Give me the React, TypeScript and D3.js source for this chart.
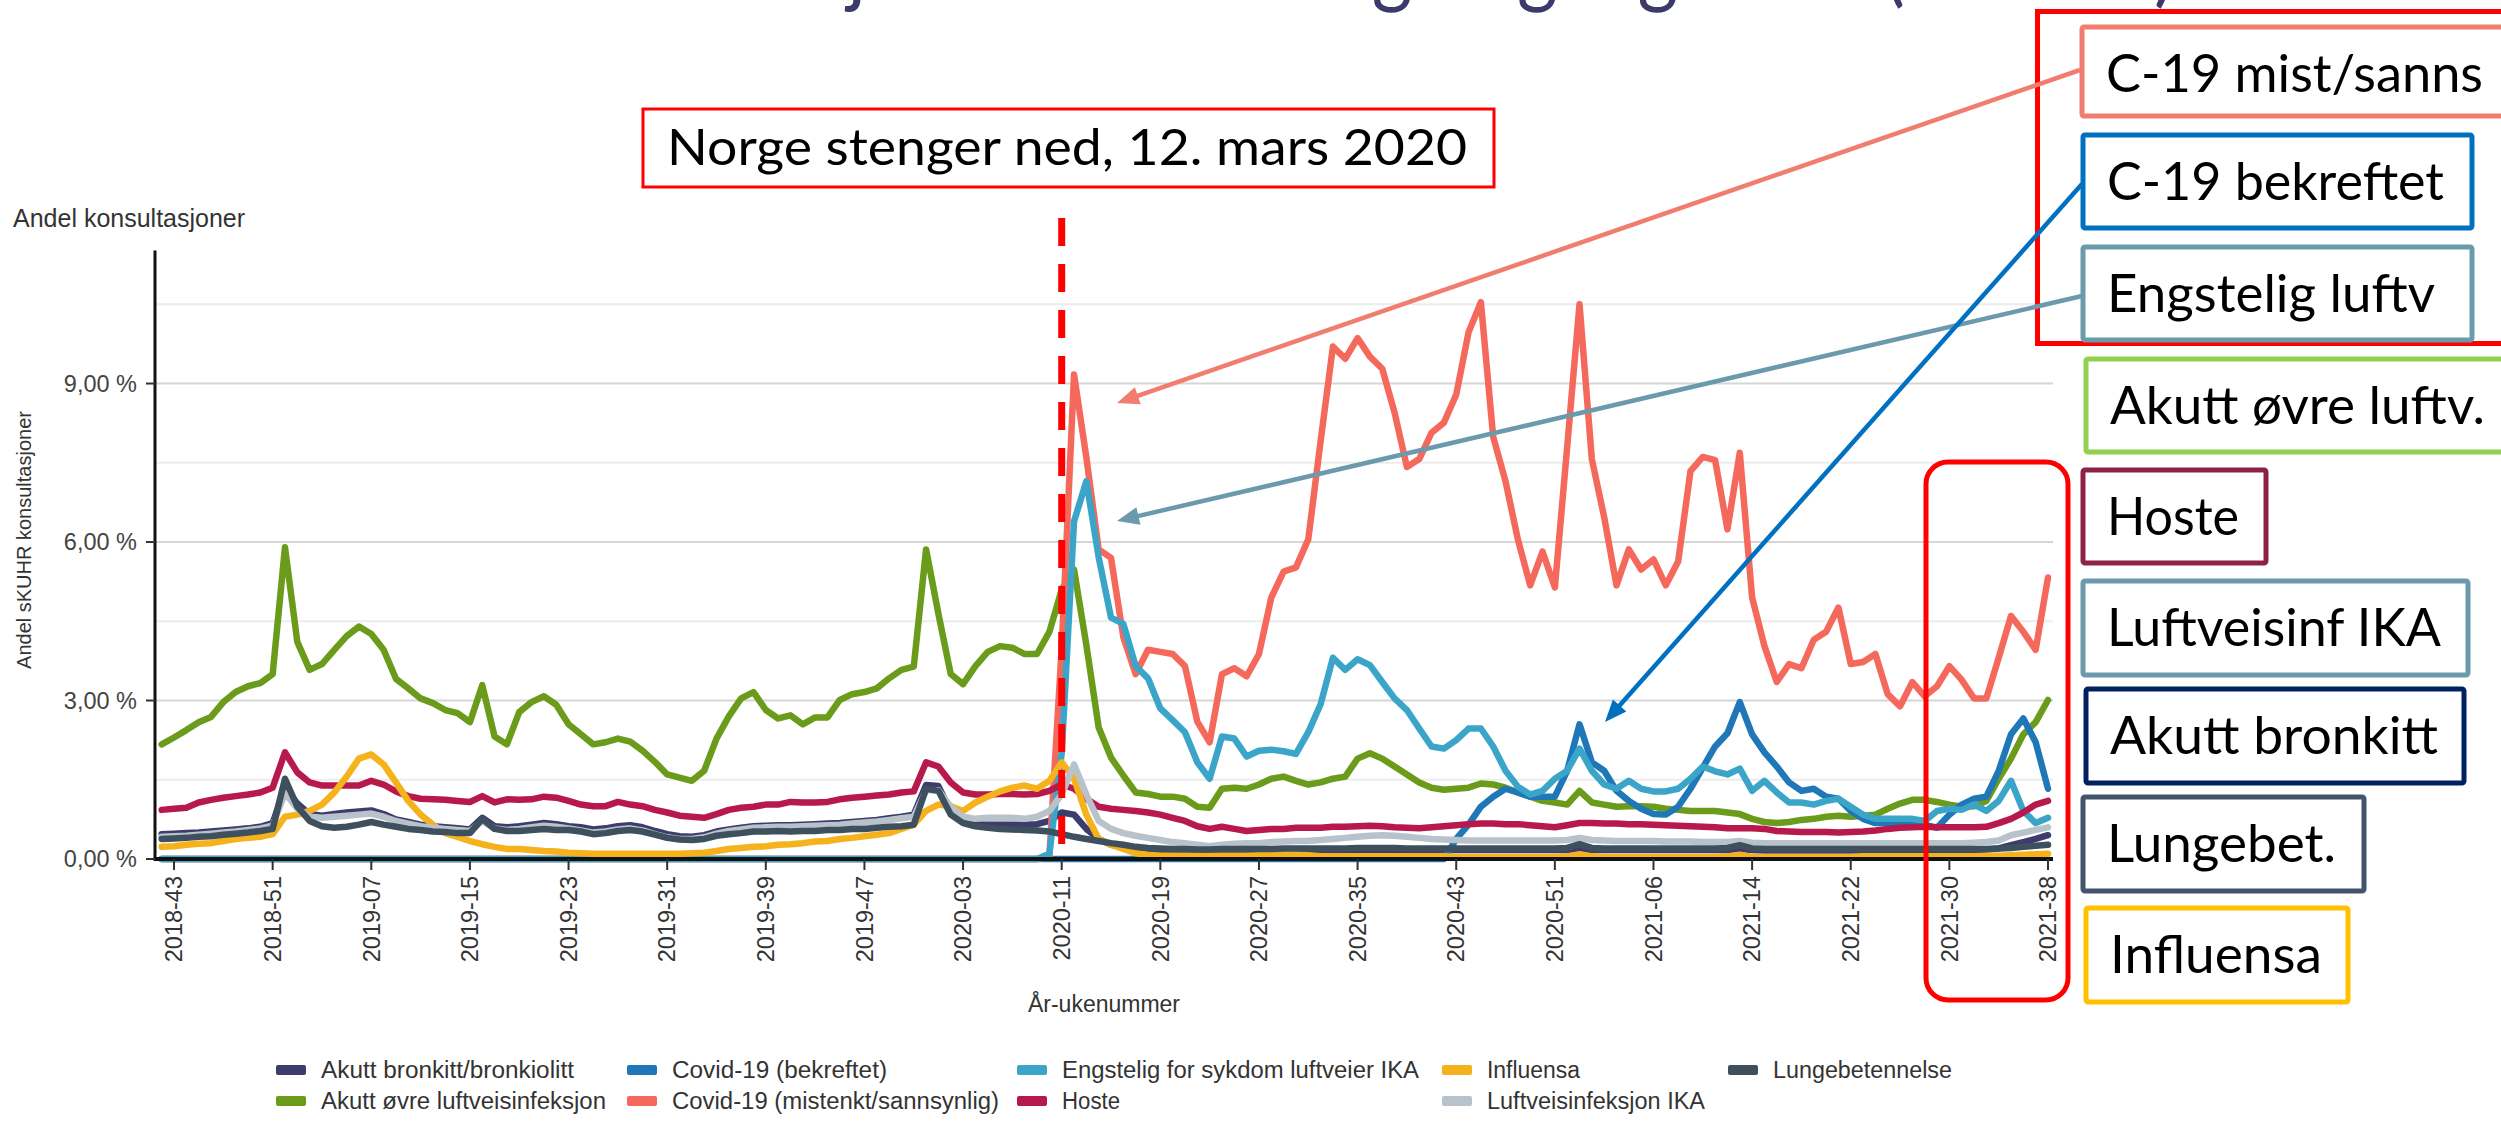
import React from 'react';
import * as d3 from 'd3';

// ---------- categories ----------
const startYear = 2018;
const startWeek = 42;
const weeksPerYear: Record<number, number> = { 2018: 52, 2019: 52, 2020: 53, 2021: 52 };
const nPoints = 154;
const weeks: string[] = (() => {
  const out: string[] = [];
  let yr = startYear, wk = startWeek;
  for (let i = 0; i < nPoints; i++) {
    out.push(`${yr}-${String(wk).padStart(2, '0')}`);
    wk++;
    if (wk > weeksPerYear[yr]) { yr++; wk = 1; }
  }
  return out;
})();

const tickLabels = ['2018-43','2018-51','2019-07','2019-15','2019-23','2019-31','2019-39','2019-47','2020-03','2020-11','2020-19','2020-27','2020-35','2020-43','2020-51','2021-06','2021-14','2021-22','2021-30','2021-38'];
const yTicks = [0, 3, 6, 9];
const yMinorGrid = [1.5, 4.5, 7.5, 10.5];
const lockdownWeek = '2020-11';

// ---------- series values (% of consultations) ----------
const akuttBronkitt = [
0.47,0.48,0.49,0.50,0.52,0.54,0.56,0.58,0.61,0.68,
1.35,1.05,0.85,0.82,0.85,0.88,0.90,0.92,0.85,0.75,
0.70,0.65,0.62,0.60,0.58,0.56,0.78,0.62,0.60,0.62,
0.65,0.68,0.66,0.62,0.60,0.56,0.58,0.62,0.64,0.60,
0.53,0.47,0.43,0.42,0.45,0.52,0.56,0.59,0.62,0.63,
0.64,0.64,0.65,0.66,0.67,0.68,0.70,0.72,0.74,0.77,
0.80,0.84,1.40,1.38,0.90,0.70,0.66,0.65,0.65,0.65,
0.65,0.66,0.72,0.88,0.84,0.57,0.38,0.27,0.23,0.20,
0.18,0.17,0.17,0.17,0.16,0.16,0.17,0.17,0.17,0.17,
0.17,0.17,0.17,0.17,0.17,0.17,0.17,0.17,0.17,0.17,
0.17,0.17,0.17,0.17,0.17,0.17,0.17,0.17,0.17,0.17,
0.17,0.17,0.17,0.17,0.17,0.20,0.17,0.17,0.17,0.17,
0.17,0.17,0.17,0.17,0.17,0.17,0.17,0.17,0.19,0.17,
0.16,0.16,0.16,0.16,0.16,0.16,0.16,0.16,0.16,0.16,
0.16,0.16,0.16,0.16,0.16,0.16,0.17,0.17,0.18,0.20,
0.26,0.32,0.38,0.45];

const akuttOvre = [
2.17,2.30,2.44,2.59,2.69,2.97,3.16,3.27,3.33,3.50,
5.90,4.11,3.58,3.69,3.96,4.22,4.40,4.26,3.96,3.41,
3.23,3.04,2.95,2.82,2.76,2.59,3.29,2.32,2.17,2.78,
2.97,3.08,2.92,2.55,2.36,2.17,2.21,2.28,2.22,2.05,
1.84,1.60,1.54,1.48,1.67,2.28,2.70,3.04,3.16,2.82,
2.66,2.72,2.55,2.68,2.68,3.01,3.12,3.16,3.23,3.42,
3.58,3.64,5.86,4.64,3.50,3.31,3.65,3.92,4.03,4.00,
3.88,3.88,4.30,5.10,5.48,4.05,2.49,1.92,1.58,1.26,
1.23,1.18,1.18,1.14,0.99,0.97,1.33,1.35,1.33,1.41,
1.52,1.56,1.48,1.41,1.45,1.52,1.56,1.90,2.00,1.90,
1.75,1.60,1.45,1.35,1.31,1.33,1.35,1.43,1.41,1.35,
1.26,1.18,1.10,1.07,1.03,1.29,1.07,1.03,0.99,1.00,
1.00,0.99,0.95,0.93,0.91,0.91,0.91,0.88,0.85,0.76,
0.70,0.68,0.70,0.74,0.76,0.80,0.82,0.80,0.82,0.84,
0.95,1.05,1.12,1.12,1.08,1.03,0.99,1.00,1.10,1.52,
1.90,2.36,2.59,3.01];

const covidBekreftet = [
0,0,0,0,0,0,0,0,0,0, 0,0,0,0,0,0,0,0,0,0,
0,0,0,0,0,0,0,0,0,0, 0,0,0,0,0,0,0,0,0,0,
0,0,0,0,0,0,0,0,0,0, 0,0,0,0,0,0,0,0,0,0,
0,0,0,0,0,0,0,0,0,0, 0,0,0,0,0,0,0,0,0,0,
0,0,0,0,0,0,0,0,0,0, 0,0,0,0,0,0,0,0,0,0,
0,0,0,0,0,0.38,0.65,0.99,1.18,1.33,
1.26,1.18,1.18,1.18,1.67,2.55,1.83,1.67,1.29,1.10,
0.95,0.85,0.84,0.99,1.33,1.73,2.13,2.38,2.97,2.36,
2.02,1.75,1.45,1.29,1.33,1.18,1.14,0.91,0.76,0.68,
0.68,0.67,0.65,0.65,0.59,0.84,1.03,1.14,1.18,1.67,
2.36,2.66,2.21,1.33];

const covidMistenkt = [
0,0,0,0,0,0,0,0,0,0, 0,0,0,0,0,0,0,0,0,0,
0,0,0,0,0,0,0,0,0,0, 0,0,0,0,0,0,0,0,0,0,
0,0,0,0,0,0,0,0,0,0, 0,0,0,0,0,0,0,0,0,0,
0,0,0,0,0,0,0,0,0,0, 0,0,0.05,4.0,9.17,7.6,5.86,5.7,4.2,3.5,
3.96,3.92,3.88,3.65,2.6,2.21,3.5,3.61,3.46,3.88,
4.95,5.44,5.52,6.05,7.91,9.70,9.47,9.86,9.51,9.28,
8.45,7.42,7.57,8.07,8.26,8.79,9.97,10.54,7.99,7.15,
6.05,5.18,5.82,5.14,7.8,10.5,7.57,6.47,5.18,5.86,
5.48,5.67,5.18,5.63,7.34,7.61,7.55,6.24,7.69,4.95,
4.03,3.35,3.69,3.61,4.15,4.30,4.76,3.69,3.73,3.88,
3.12,2.89,3.35,3.08,3.27,3.65,3.39,3.04,3.04,3.81,
4.60,4.30,3.96,5.33];

const engstelig = [
0,0,0,0,0,0,0,0,0,0, 0,0,0,0,0,0,0,0,0,0,
0,0,0,0,0,0,0,0,0,0, 0,0,0,0,0,0,0,0,0,0,
0,0,0,0,0,0,0,0,0,0, 0,0,0,0,0,0,0,0,0,0,
0,0,0,0,0,0,0,0,0,0, 0,0,0.1,2.0,6.39,7.15,5.71,4.57,4.45,3.65,
3.42,2.85,2.63,2.40,1.83,1.52,2.32,2.28,1.94,2.05,
2.07,2.04,1.99,2.40,2.93,3.81,3.58,3.78,3.67,3.35,
3.04,2.82,2.47,2.13,2.09,2.25,2.47,2.47,2.13,1.67,
1.37,1.22,1.29,1.52,1.67,2.09,1.67,1.41,1.33,1.48,
1.33,1.28,1.28,1.33,1.52,1.75,1.66,1.60,1.71,1.29,
1.48,1.26,1.07,1.07,1.03,1.10,1.14,0.99,0.84,0.76,
0.76,0.76,0.76,0.72,0.91,0.95,0.93,1.03,0.91,1.10,
1.48,0.91,0.68,0.78];

const hoste = [
0.93,0.95,0.97,1.07,1.12,1.16,1.19,1.22,1.26,1.35,
2.02,1.64,1.45,1.39,1.39,1.39,1.39,1.48,1.41,1.28,
1.19,1.14,1.13,1.12,1.10,1.08,1.19,1.07,1.13,1.12,
1.13,1.18,1.16,1.10,1.03,1.00,1.00,1.08,1.03,1.00,
0.93,0.88,0.82,0.80,0.78,0.85,0.93,0.97,0.99,1.03,
1.03,1.08,1.07,1.07,1.08,1.13,1.16,1.18,1.20,1.22,
1.26,1.28,1.83,1.75,1.45,1.26,1.22,1.22,1.23,1.23,
1.22,1.23,1.29,1.41,1.33,1.14,0.99,0.95,0.93,0.91,
0.88,0.84,0.78,0.72,0.62,0.57,0.61,0.57,0.53,0.55,
0.57,0.57,0.59,0.59,0.59,0.61,0.61,0.62,0.63,0.62,
0.60,0.59,0.58,0.60,0.62,0.64,0.66,0.67,0.67,0.66,
0.66,0.64,0.62,0.60,0.64,0.68,0.68,0.67,0.67,0.66,
0.66,0.65,0.64,0.63,0.62,0.61,0.60,0.58,0.58,0.58,
0.57,0.53,0.52,0.51,0.51,0.51,0.50,0.51,0.52,0.54,
0.57,0.59,0.60,0.61,0.60,0.60,0.60,0.60,0.61,0.68,
0.76,0.88,1.03,1.10];

const influensa = [
0.23,0.24,0.27,0.29,0.30,0.34,0.38,0.40,0.42,0.47,
0.80,0.84,0.91,1.03,1.26,1.56,1.90,1.98,1.79,1.45,
1.10,0.84,0.65,0.49,0.42,0.34,0.28,0.23,0.19,0.19,
0.17,0.15,0.14,0.12,0.11,0.10,0.10,0.10,0.10,0.10,
0.10,0.10,0.10,0.11,0.12,0.15,0.19,0.21,0.23,0.24,
0.27,0.28,0.30,0.33,0.34,0.38,0.40,0.43,0.46,0.49,
0.57,0.65,0.91,1.03,1.00,0.91,1.07,1.18,1.28,1.35,
1.39,1.33,1.48,1.83,1.52,0.84,0.38,0.27,0.19,0.11,
0.08,0.06,0.06,0.06,0.06,0.06,0.06,0.06,0.06,0.07,
0.08,0.10,0.09,0.07,0.05,0.05,0.05,0.05,0.05,0.05,
0.05,0.05,0.05,0.05,0.05,0.04,0.04,0.04,0.04,0.04,
0.04,0.04,0.04,0.04,0.05,0.09,0.05,0.04,0.04,0.04,
0.04,0.04,0.04,0.04,0.04,0.04,0.04,0.05,0.08,0.04,
0.04,0.04,0.04,0.04,0.04,0.04,0.04,0.04,0.05,0.05,
0.05,0.05,0.05,0.05,0.05,0.05,0.05,0.05,0.06,0.06,
0.07,0.08,0.09,0.10];

const luftveisIKA = [
0.42,0.43,0.44,0.46,0.48,0.50,0.52,0.55,0.58,0.63,
1.25,0.95,0.80,0.78,0.80,0.82,0.84,0.86,0.80,0.72,
0.67,0.62,0.59,0.57,0.55,0.53,0.72,0.58,0.55,0.57,
0.60,0.63,0.61,0.58,0.54,0.50,0.52,0.56,0.58,0.54,
0.47,0.41,0.38,0.38,0.41,0.48,0.53,0.56,0.59,0.60,
0.61,0.61,0.62,0.63,0.64,0.65,0.67,0.69,0.71,0.74,
0.77,0.80,1.30,1.30,0.99,0.80,0.76,0.78,0.78,0.78,
0.76,0.80,0.91,1.22,1.79,1.22,0.72,0.57,0.49,0.44,
0.40,0.36,0.32,0.30,0.27,0.24,0.27,0.29,0.30,0.30,
0.32,0.33,0.34,0.34,0.36,0.38,0.40,0.42,0.44,0.45,
0.44,0.42,0.40,0.38,0.37,0.36,0.35,0.35,0.35,0.35,
0.35,0.35,0.35,0.35,0.36,0.40,0.36,0.35,0.34,0.34,
0.34,0.34,0.33,0.33,0.33,0.32,0.32,0.32,0.34,0.31,
0.30,0.30,0.30,0.30,0.30,0.30,0.30,0.30,0.30,0.30,
0.30,0.30,0.30,0.30,0.30,0.30,0.30,0.31,0.32,0.35,
0.45,0.50,0.55,0.60];

const lungebetennelse = [
0.38,0.39,0.40,0.42,0.43,0.46,0.48,0.50,0.53,0.57,
1.52,0.99,0.72,0.62,0.59,0.61,0.65,0.70,0.65,0.61,
0.57,0.55,0.52,0.51,0.49,0.49,0.76,0.57,0.53,0.53,
0.55,0.57,0.55,0.55,0.52,0.47,0.49,0.53,0.55,0.52,
0.46,0.40,0.37,0.36,0.38,0.44,0.47,0.49,0.52,0.52,
0.53,0.52,0.53,0.53,0.55,0.55,0.57,0.57,0.59,0.61,
0.62,0.65,1.33,1.29,0.84,0.68,0.62,0.59,0.57,0.56,
0.55,0.54,0.52,0.47,0.42,0.38,0.34,0.30,0.27,0.23,
0.21,0.20,0.19,0.19,0.18,0.18,0.19,0.19,0.19,0.19,
0.19,0.20,0.20,0.20,0.20,0.20,0.20,0.21,0.21,0.21,
0.21,0.20,0.20,0.20,0.20,0.20,0.20,0.20,0.20,0.20,
0.20,0.20,0.20,0.20,0.21,0.28,0.21,0.20,0.20,0.20,
0.20,0.20,0.20,0.20,0.20,0.20,0.20,0.21,0.26,0.20,
0.19,0.19,0.19,0.19,0.19,0.19,0.19,0.19,0.19,0.19,
0.19,0.19,0.19,0.19,0.19,0.19,0.19,0.19,0.19,0.20,
0.21,0.23,0.25,0.27];

const seriesNames = ['Akutt bronkitt/bronkiolitt','Akutt øvre luftveisinfeksjon','Covid-19 (bekreftet)','Covid-19 (mistenkt/sannsynlig)','Engstelig for sykdom luftveier IKA','Hoste','Influensa','Luftveisinfeksjon IKA','Lungebetennelse'];
const seriesColors = ['#3d3c6c','#6b9b1a','#1f77b8','#f4695c','#3aa5c8','#b8194c','#f5b21c','#b8c2ca','#3e505d'];
const seriesValues = [akuttBronkitt, akuttOvre, covidBekreftet, covidMistenkt, engstelig, hoste, influensa, luftveisIKA, lungebetennelse];

// legend layout: column-major, 2 rows
const legendOrder = [
  [0, 2, 4, 6, 8],
  [1, 3, 5, 7, -1],
];
const legendColX = [276, 627, 1017, 1442, 1728];
const legendRowY = [1070, 1101];
const legendTextW = [253, 285, 215, 327, 357, 58, 93, 218, 179];

// annotation boxes on the right
const calloutLabels = ['C-19 mist/sanns','C-19 bekreftet','Engstelig luftv','Akutt øvre luftv.','Hoste','Luftveisinf IKA','Akutt bronkitt','Lungebet.','Influensa'];
const calloutColors = ['#f07d6e','#0070c0','#6a9aab','#92d050','#8c2247','#6a9aab','#002060','#44546a','#ffc000'];
const calloutBoxes = [
  [2082, 27, 460, 89], [2083, 135, 389, 93], [2083, 247, 389, 93], [2086, 359, 460, 93],
  [2083, 470, 183, 93], [2083, 581, 385, 94], [2086, 689, 378, 94], [2083, 797, 281, 94], [2086, 908, 262, 94],
];
const calloutTextW = [377, 337, 328, 375, 132, 334, 328, 229, 212];

export default function App() {
  const W = 2501, H = 1133;
  const x = d3.scalePoint<string>().domain(weeks).range([161.7, 2048]);
  const y = d3.scaleLinear().domain([0, 10.5]).range([859, 304.3]);
  const plotL = 155, plotR = 2053, yTop = y(11.52);
  const line = d3.line<number>().x((_, i) => x(weeks[i]) as number).y(d => y(d));
  const font = "'Liberation Sans', Arial, sans-serif";
  const cal = "Lato, 'Open Sans', sans-serif";
  const xl = x(lockdownWeek) as number;

  const arrow = (x1: number, y1: number, x2: number, y2: number, color: string, key: string) => {
    const a = Math.atan2(y2 - y1, x2 - x1);
    const len = 22, hw = 9;
    const bx = x2 - len * Math.cos(a), by = y2 - len * Math.sin(a);
    const p1 = [bx + hw * Math.sin(a), by - hw * Math.cos(a)];
    const p2 = [bx - hw * Math.sin(a), by + hw * Math.cos(a)];
    return (
      <g key={key}>
        <line x1={x1} y1={y1} x2={bx + 4 * Math.cos(a)} y2={by + 4 * Math.sin(a)} stroke={color} strokeWidth={4.5} />
        <polygon points={`${x2},${y2} ${p1[0]},${p1[1]} ${p2[0]},${p2[1]}`} fill={color} />
      </g>
    );
  };

  return (
    <svg width={W} height={H} viewBox={`0 0 ${W} ${H}`} style={{ position: 'absolute', left: 0, top: 0, background: '#fff' }}>
      <rect x={0} y={0} width={W} height={H} fill="#fff" />
      {/* cut-off slide title */}
      <text x={514} y={-4} fontFamily={cal} fontSize={88} fill="#3b3a6b" textLength={1661} lengthAdjust="spacingAndGlyphs">Konsultasjoner hos fastlege og legevakt (sKUHR)</text>

      {/* gridlines */}
      {yMinorGrid.map(v => <line key={'m' + v} x1={plotL} x2={plotR} y1={y(v)} y2={y(v)} stroke="#ececec" strokeWidth={2} />)}
      {yTicks.filter(v => v > 0).map(v => <line key={'g' + v} x1={plotL} x2={plotR} y1={y(v)} y2={y(v)} stroke="#d6d6d6" strokeWidth={2} />)}

      {/* series */}
      {seriesValues.map((vals, i) => (
        <path key={seriesNames[i]} d={line(vals) || ''} fill="none" stroke={seriesColors[i]} strokeWidth={6.5} strokeLinejoin="round" strokeLinecap="round" />
      ))}

      {/* axes */}
      <line x1={plotL} x2={plotL} y1={yTop} y2={y(0) + 2} stroke="#111" strokeWidth={3} />
      <line x1={plotL} x2={plotR} y1={y(0)} y2={y(0)} stroke="#111" strokeWidth={4} />
      {yTicks.map(v => (
        <g key={'yt' + v}>
          <line x1={plotL - 9} x2={plotL} y1={y(v)} y2={y(v)} stroke="#333" strokeWidth={2} />
          <text x={137} y={y(v)} dy="0.35em" textAnchor="end" fontFamily={font} fontSize={23.5} fill="#444">{v.toFixed(2).replace('.', ',') + ' %'}</text>
        </g>
      ))}
      {tickLabels.map(t => {
        const tx = x(t) as number;
        return (
          <g key={t}>
            <line x1={tx} x2={tx} y1={y(0)} y2={y(0) + 11} stroke="#333" strokeWidth={2} />
            <text transform={`translate(${tx},876) rotate(-90)`} dy="0.35em" textAnchor="end" fontFamily={font} fontSize={23.5} fill="#333">{t}</text>
          </g>
        );
      })}
      <text x={13} y={227} fontFamily={font} fontSize={25} fill="#333">Andel konsultasjoner</text>
      <text transform="translate(31,540) rotate(-90)" textAnchor="middle" fontFamily={font} fontSize={20} fill="#333">Andel sKUHR konsultasjoner</text>
      <text x={(plotL + plotR) / 2} y={1012} textAnchor="middle" fontFamily={font} fontSize={23} fill="#333">År-ukenummer</text>

      {/* legend */}
      {legendOrder.map((row, r) => row.map((si, c) => {
        if (si < 0) return null;
        const lx = legendColX[c];
        const ly = legendRowY[r];
        return (
          <g key={'lg' + si}>
            <rect x={lx} y={ly - 5} width={30} height={10} rx={2} fill={seriesColors[si]} />
            <text x={lx + 45} y={ly} dy="0.35em" fontFamily={font} fontSize={23.5} fill="#333" textLength={legendTextW[si]} lengthAdjust="spacingAndGlyphs">{seriesNames[si]}</text>
          </g>
        );
      }))}

      {/* lockdown line */}
      <line x1={xl} x2={xl} y1={218} y2={y(0)} stroke="#ff0000" strokeWidth={7} strokeDasharray="28 18" />
      <rect x={643} y={109} width={851} height={78} fill="#fff" stroke="#ff0000" strokeWidth={3} />
      <text x={667} y={165} fontFamily={cal} fontSize={50} fill="#000" textLength={800} lengthAdjust="spacingAndGlyphs">Norge stenger ned, 12. mars 2020</text>

      {/* highlight frames */}
      <rect x={2037.5} y={11.5} width={500} height={332} fill="none" stroke="#ff0000" strokeWidth={5} />
      <rect x={1926} y={462} width={142} height={538} rx={22} fill="none" stroke="#ff0000" strokeWidth={5} />

      {/* callout boxes */}
      {calloutLabels.map((lab, i) => {
        const [bx, by, bw, bh] = calloutBoxes[i];
        return (
          <g key={lab}>
            <rect x={bx} y={by} width={bw} height={bh} fill="#fff" stroke={calloutColors[i]} strokeWidth={5} rx={2} />
            <text x={bx + 24} y={by + 65} fontFamily={cal} fontSize={52} fill="#000" textLength={calloutTextW[i]} lengthAdjust="spacingAndGlyphs">{lab}</text>
          </g>
        );
      })}

      {/* arrows */}
      {arrow(2080, 70, 1117, 403, '#f07d6e', 'a1')}
      {arrow(2082, 296, 1117, 521, '#6a9aab', 'a2')}
      {arrow(2082, 184, 1605, 722, '#0070c0', 'a3')}
    </svg>
  );
}
